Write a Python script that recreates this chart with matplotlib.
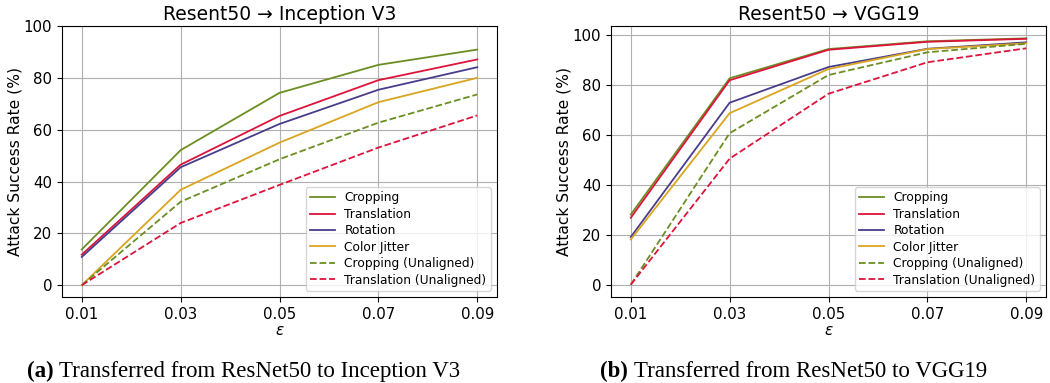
import matplotlib.pyplot as plt

eps = [0.01, 0.03, 0.05, 0.07, 0.09]
eps_labels = ["0.01", "0.03", "0.05", "0.07", "0.09"]

series_names = ["Cropping", "Translation", "Rotation", "Color Jitter",
                "Cropping (Unaligned)", "Translation (Unaligned)"]

# Resent50 -> Inception V3
inc_cropping = [13.8, 52.1, 74.2, 85.0, 90.9]
inc_translation = [11.8, 46.5, 65.3, 79.1, 87.1]
inc_rotation = [10.9, 45.5, 62.2, 75.4, 84.1]
inc_jitter = [0.0, 36.8, 55.0, 70.6, 80.0]
inc_cropping_un = [0.0, 32.2, 48.6, 62.7, 73.6]
inc_translation_un = [0.0, 24.0, 38.7, 53.1, 65.5]

# Resent50 -> VGG19
vgg_cropping = [28.1, 82.7, 94.4, 97.5, 98.7]
vgg_translation = [26.8, 81.9, 94.1, 97.3, 98.5]
vgg_rotation = [19.1, 72.9, 87.2, 94.5, 97.1]
vgg_jitter = [18.1, 68.7, 86.4, 94.4, 96.7]
vgg_cropping_un = [0.0, 60.7, 84.0, 93.1, 96.5]
vgg_translation_un = [0.0, 50.5, 76.5, 89.1, 94.7]

colors = ["#6b8e23", "#dc143c", "#483d8b", "#daa520", "#6b8e23", "#dc143c"]
styles = ["-", "-", "-", "-", "--", "--"]

fig = plt.figure(figsize=(10.5, 3.83), dpi=100)
ax1 = fig.add_axes([62 / 1050, 86 / 383, 435 / 1050, 271 / 383])
ax2 = fig.add_axes([611 / 1050, 86 / 383, 435 / 1050, 271 / 383])


def draw(ax, data, title):
    for vals, name, c, ls in zip(data, series_names, colors, styles):
        ax.plot(eps, vals, color=c, linestyle=ls, linewidth=1.3, label=name)
    ax.set_xticks(eps)
    ax.set_xticklabels(eps_labels)
    ax.tick_params(labelsize=10.8)
    ax.grid(True, color="#b0b0b0", linewidth=0.8)
    ax.set_title(title, fontsize=13.5, pad=4)
    ax.set_xlabel(r"$\epsilon$", fontsize=11, labelpad=1)
    ax.set_ylabel("Attack Success Rate (%)", fontsize=11.2, labelpad=1)
    ax.legend(loc="lower right", fontsize=8.8, labelspacing=0.28,
              borderpad=0.35, handletextpad=0.8)


draw(ax1, [inc_cropping, inc_translation, inc_rotation, inc_jitter,
           inc_cropping_un, inc_translation_un], "Resent50 → Inception V3")
ax1.set_ylim(-4.55, 100)

draw(ax2, [vgg_cropping, vgg_translation, vgg_rotation, vgg_jitter,
           vgg_cropping_un, vgg_translation_un], "Resent50 → VGG19")

cap = dict(family="Liberation Serif", fontsize=16.5, va="baseline", ha="left")
y_cap = 6 / 383
fig.text(27 / 1050, y_cap, "(a)", fontweight="bold", **cap)
fig.text(59 / 1050, y_cap, "Transferred from ResNet50 to Inception V3", **cap)
fig.text(600 / 1050, y_cap, "(b)", fontweight="bold", **cap)
fig.text(634 / 1050, y_cap, "Transferred from ResNet50 to VGG19", **cap)

fig.savefig("out.png", dpi=100)
